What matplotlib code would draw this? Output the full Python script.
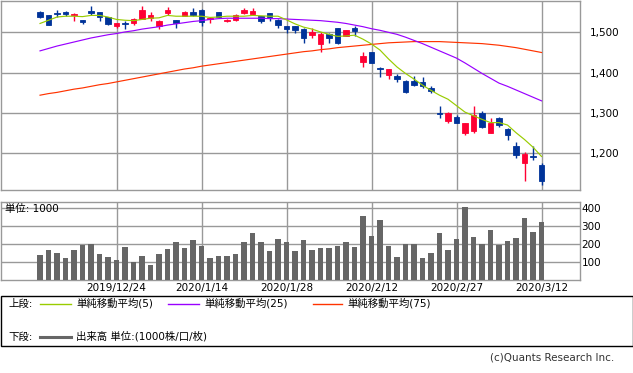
import matplotlib
matplotlib.use('Agg')
import matplotlib.pyplot as plt
from matplotlib.lines import Line2D
from matplotlib.patches import Rectangle

plt.rcParams['font.family'] = ['DejaVu Sans', 'Noto Sans CJK JP']
plt.rcParams['font.size'] = 7.5

# trading days 2019/12/11 - 2020/3/12
dates = ['2019/12/11', '2019/12/12', '2019/12/13', '2019/12/16', '2019/12/17',
         '2019/12/18', '2019/12/19', '2019/12/20', '2019/12/23', '2019/12/24',
         '2019/12/25', '2019/12/26', '2019/12/27', '2019/12/30', '2020/1/6',
         '2020/1/7', '2020/1/8', '2020/1/9', '2020/1/10', '2020/1/14',
         '2020/1/15', '2020/1/16', '2020/1/17', '2020/1/20', '2020/1/21',
         '2020/1/22', '2020/1/23', '2020/1/24', '2020/1/27', '2020/1/28',
         '2020/1/29', '2020/1/30', '2020/1/31', '2020/2/3', '2020/2/4',
         '2020/2/5', '2020/2/6', '2020/2/7', '2020/2/10', '2020/2/12',
         '2020/2/13', '2020/2/14', '2020/2/17', '2020/2/18', '2020/2/19',
         '2020/2/20', '2020/2/21', '2020/2/25', '2020/2/26', '2020/2/27',
         '2020/2/28', '2020/3/2', '2020/3/3', '2020/3/4', '2020/3/5',
         '2020/3/6', '2020/3/9', '2020/3/10', '2020/3/11', '2020/3/12']
tick_idx = [9, 19, 29, 39, 49, 59]

opens = [1551, 1543, 1548, 1551, 1543, 1530, 1553, 1550, 1537, 1516,
         1523, 1524, 1533, 1535, 1516, 1547, 1530, 1541, 1550, 1555,
         1534, 1550, 1528, 1531, 1547, 1545, 1541, 1547, 1531, 1516,
         1515, 1508, 1493, 1470, 1495, 1510, 1492, 1510, 1427, 1450,
         1412, 1393, 1392, 1379, 1378, 1378, 1363, 1301, 1280, 1291,
         1251, 1256, 1299, 1251, 1287, 1260, 1219, 1176, 1194, 1171]
highs = [1553, 1544, 1555, 1554, 1547, 1531, 1565, 1550, 1537, 1524,
         1529, 1535, 1565, 1550, 1530, 1562, 1530, 1553, 1560, 1557,
         1539, 1550, 1534, 1546, 1561, 1560, 1541, 1549, 1533, 1516,
         1515, 1510, 1512, 1502, 1498, 1512, 1507, 1516, 1452, 1452,
         1414, 1409, 1397, 1382, 1392, 1389, 1366, 1317, 1302, 1295,
         1274, 1317, 1305, 1287, 1289, 1262, 1229, 1203, 1218, 1177]
lows = [1536, 1517, 1537, 1540, 1527, 1520, 1542, 1529, 1518, 1510,
        1508, 1518, 1533, 1529, 1508, 1543, 1510, 1540, 1540, 1516,
        1522, 1535, 1525, 1529, 1545, 1543, 1524, 1529, 1511, 1499,
        1499, 1474, 1487, 1452, 1474, 1471, 1492, 1492, 1415, 1423,
        1390, 1384, 1378, 1350, 1366, 1361, 1350, 1288, 1276, 1276,
        1245, 1251, 1263, 1251, 1264, 1233, 1188, 1130, 1183, 1120]
closes = [1539, 1519, 1546, 1545, 1546, 1526, 1547, 1539, 1521, 1522,
          1521, 1533, 1555, 1543, 1528, 1555, 1522, 1550, 1543, 1526,
          1536, 1539, 1531, 1544, 1556, 1554, 1529, 1537, 1518, 1508,
          1506, 1487, 1500, 1496, 1487, 1473, 1506, 1504, 1441, 1425,
          1408, 1409, 1383, 1353, 1369, 1367, 1355, 1298, 1299, 1276,
          1274, 1295, 1266, 1276, 1270, 1246, 1196, 1199, 1190, 1130]

ma5 = [1522, 1530, 1538, 1540, 1540, 1539, 1542, 1542, 1538, 1532,
       1530, 1529, 1532, 1535, 1536, 1542, 1540, 1540, 1540, 1540,
       1537, 1538, 1540, 1540, 1540, 1542, 1541, 1540, 1540, 1531,
       1521, 1513, 1508, 1501, 1495, 1490, 1491, 1493, 1483, 1471,
       1456, 1434, 1414, 1398, 1384, 1369, 1356, 1344, 1334, 1318,
       1302, 1293, 1284, 1276, 1276, 1270, 1251, 1234, 1215, 1192]
ma25 = [1454, 1460, 1466, 1471, 1476, 1481, 1486, 1490, 1494, 1497,
        1501, 1504, 1508, 1511, 1514, 1518, 1521, 1524, 1527, 1529,
        1532, 1534, 1535, 1535, 1535, 1535, 1535, 1534, 1534, 1533,
        1532, 1531, 1530, 1529, 1527, 1525, 1522, 1518, 1514, 1509,
        1505, 1500, 1495, 1488, 1480, 1472, 1463, 1454, 1445, 1436,
        1424, 1411, 1398, 1386, 1374, 1366, 1357, 1348, 1339, 1330]
ma75 = [1344, 1348, 1351, 1355, 1359, 1362, 1366, 1370, 1373, 1377,
        1381, 1385, 1389, 1393, 1397, 1401, 1405, 1409, 1412, 1416,
        1419, 1422, 1425, 1428, 1431, 1434, 1437, 1440, 1443, 1446,
        1449, 1452, 1454, 1457, 1459, 1462, 1464, 1466, 1468, 1470,
        1472, 1474, 1475, 1476, 1477, 1477, 1477, 1477, 1476, 1475,
        1474, 1473, 1472, 1470, 1468, 1465, 1462, 1458, 1454, 1450]

volume = [140, 168, 153, 123, 168, 196, 201, 145, 128, 112,
          184, 101, 134, 84, 145, 173, 212, 179, 223, 190,
          123, 134, 134, 145, 212, 263, 212, 162, 229, 212,
          162, 223, 168, 179, 179, 190, 212, 184, 357, 246,
          335, 190, 128, 201, 201, 123, 151, 262, 168, 229,
          407, 240, 201, 279, 195, 218, 234, 346, 268, 324]

price_ticks = [1200, 1300, 1400, 1500]
vol_ticks = [100, 200, 300, 400]

W, H = 633, 373
def fx(px): return px / W
def fy(py): return 1 - py / H

up_col = '#ff0033'
dn_col = '#003399'
grid_col = '#999999'
c5, c25, c75 = '#99cc00', '#9900ff', '#ff3300'

fig = plt.figure(figsize=(W / 100, H / 100), dpi=100, facecolor='white')
ax = fig.add_axes([fx(0.5), fy(189.5), fx(579), 189 / H])
axv = fig.add_axes([fx(0.5), fy(280), fx(579), 78.3 / H])

x = list(range(len(dates)))
cols = [up_col if c >= o else dn_col for o, c in zip(opens, closes)]
bottoms = [min(o, c) for o, c in zip(opens, closes)]
heights = [abs(c - o) for o, c in zip(opens, closes)]

# candles
ax.vlines(x, lows, highs, colors=cols, lw=1, zorder=2)
ax.bar(x, heights, bottom=bottoms, width=0.7, color=cols, edgecolor=cols, lw=0.6, zorder=3)
ax.plot(x, ma75, color=c75, lw=0.85, zorder=4)
ax.plot(x, ma25, color=c25, lw=0.85, zorder=4)
ax.plot(x, ma5, color=c5, lw=0.85, zorder=4)

# volume
axv.bar(x, volume, width=0.7, color='#666666', zorder=3)

for a in (ax, axv):
    a.set_xlim(-4.65, 63.47)
    a.set_xticks(tick_idx)
    a.grid(color=grid_col, lw=1)
    a.set_axisbelow(True)
    a.yaxis.tick_right()
    for s in a.spines.values():
        s.set_color(grid_col)
        s.set_linewidth(1)

ax.set_ylim(1110, 1579)
ax.set_yticks(price_ticks)
ax.set_yticklabels([f'{v:,}' for v in price_ticks])
ax.tick_params(axis='y', length=0, pad=7.5)
ax.tick_params(axis='x', length=0, labelbottom=False)

axv.set_ylim(0, 437)
axv.set_yticks(vol_ticks)
axv.tick_params(axis='y', length=0, pad=1.5)
axv.set_xticklabels([dates[i] for i in tick_idx])
axv.tick_params(axis='x', length=0, pad=2.5)

fig.text(fx(5), fy(208.5), '単位: 1000', ha='left', va='center')

# legend box
fig.add_artist(Rectangle((fx(0.5), fy(346)), fx(632), (346 - 296) / H,
                         transform=fig.transFigure, fill=False, edgecolor='black', lw=1))
fig.text(fx(8), fy(303.5), '上段:', ha='left', va='center')
legend_items = [(40, 71, 76, c5, '単純移動平均(5)'),
                (168, 199, 204, c25, '単純移動平均(25)'),
                (313, 342, 347, c75, '単純移動平均(75)')]
for x0, x1, xt, c, label in legend_items:
    fig.add_artist(Line2D([fx(x0), fx(x1)], [fy(303.5)] * 2, color=c, lw=1,
                          transform=fig.transFigure))
    fig.text(fx(xt), fy(303.5), label, ha='left', va='center')
fig.text(fx(8), fy(336.5), '下段:', ha='left', va='center')
fig.add_artist(Line2D([fx(40), fx(71)], [fy(336.5)] * 2, color='#666666', lw=2.2,
                      transform=fig.transFigure))
fig.text(fx(76), fy(336.5), '出来高 単位:(1000株/口/枚)', ha='left', va='center')

fig.text(fx(614), fy(357), '(c)Quants Research Inc.', ha='right', va='center', color='#333333')

fig.savefig('out.png', dpi=100, facecolor='white')
